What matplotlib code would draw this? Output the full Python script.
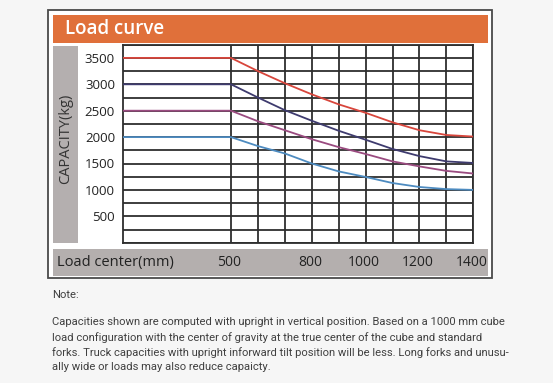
import matplotlib
matplotlib.use("Agg")
import matplotlib.pyplot as plt
from matplotlib.patches import Rectangle
import matplotlib.transforms as mtransforms

# ---- data ----
load_centers = [100, 500, 600, 700, 800, 900, 1000, 1100, 1200, 1300, 1400]
cap_3500 = [3500, 3500, 3250, 3020, 2810, 2620, 2460, 2280, 2130, 2040, 2010]
cap_3000 = [3000, 3000, 2750, 2510, 2310, 2120, 1950, 1775, 1640, 1540, 1510]
cap_2500 = [2500, 2500, 2300, 2130, 1960, 1810, 1680, 1540, 1445, 1360, 1310]
cap_2000 = [2000, 2000, 1830, 1690, 1500, 1350, 1245, 1130, 1055, 1015, 1000]
series_colors = ["#d8463c", "#3e3b6e", "#9a4b80", "#4d8bc0"]
x_grid = [500, 600, 700, 800, 900, 1000, 1100, 1200, 1300, 1400]
x_labels = {500: "500", 800: "800", 1000: "1000", 1200: "1200", 1400: "1400"}
y_ticks = list(range(0, 3751, 250))
y_labels = ["500", "1000", "1500", "2000", "2500", "3000", "3500"]
title = "Load curve"
ylabel = "CAPACITY(kg)"
xlabel = "Load center(mm)"
note_lines = [
    "Note:",
    "Capacities shown are computed with upright in vertical position. Based on a 1000 mm cube",
    "load configuration with the center of gravity at the true center of the cube and standard",
    "forks. Truck capacities with upright inforward tilt position will be less. Long forks and unusu-",
    "ally wide or loads may also reduce capaicty.",
]

W, H = 553, 383
plt.rcParams['font.family'] = ['Open Sans', 'DejaVu Sans']
fig = plt.figure(figsize=(W / 100, H / 100), dpi=100)
fig.patch.set_facecolor("#f6f6f6")


def fx(x):
    return x / W


def fy(y):
    return 1 - y / H


def prect(x0, y0, x1, y1, **kw):
    fig.patches.append(Rectangle((fx(x0), fy(y1)), fx(x1) - fx(x0), fy(y0) - fy(y1),
                                 transform=fig.transFigure, figure=fig, **kw))


# outer frame
prect(48, 10, 492, 278, facecolor="#ffffff", edgecolor="#4a4a4a", linewidth=1.3)
# title bar
prect(53, 15, 488, 43, facecolor="#e0703a", edgecolor="none")
fig.text(fx(65), fy(29.5), title, color="white", fontsize=13.5, fontweight="semibold",
         va="center", ha="left")
# left grey strip
prect(53, 46, 78, 243, facecolor="#b4afaf", edgecolor="none")
fig.text(fx(65.5), fy(139), ylabel, color="#333333", fontsize=10.5, rotation=90,
         va="center", ha="center")
# bottom grey bar
prect(53, 249, 488, 276, facecolor="#b4afae", edgecolor="none")
fig.text(fx(57), fy(262.5), xlabel, color="#222222", fontsize=10.5, va="center", ha="left")

# main axes
x0, y0, x1, y1 = 123.3, 44.7, 473.3, 242.7
ax = fig.add_axes([fx(x0), fy(y1), fx(x1) - fx(x0), fy(y0) - fy(y1)])
ax.set_zorder(5)
ax.set_facecolor("white")
ax.set_xlim(100, 1400)
ax.set_ylim(0, 3750)

for xv in x_grid:
    ax.axvline(xv, color="#2e2e2e", linewidth=1.3, zorder=1)
for yv in y_ticks:
    ax.axhline(yv, color="#2e2e2e", linewidth=1.3, zorder=1)
for s in ax.spines.values():
    s.set_color("#2e2e2e")
    s.set_linewidth(1.3)

ax.set_xticks([])
ax.set_yticks([int(v) for v in y_labels])
ax.set_yticklabels(y_labels, fontsize=9.5, color="#222222")
ax.tick_params(axis="y", length=0, pad=6)

for ys, c in zip([cap_3500, cap_3000, cap_2500, cap_2000], series_colors):
    ax.plot(load_centers, ys, color=c, linewidth=1.3, zorder=3, solid_joinstyle="round")

trans = mtransforms.blended_transform_factory(ax.transData, fig.transFigure)
shift = mtransforms.ScaledTranslation(-2 / 100, 0, fig.dpi_scale_trans)
for xv, lab in x_labels.items():
    ax.text(xv, fy(262.5), lab, transform=trans + shift, ha="center", va="center",
            fontsize=10, color="#222222", clip_on=False)

# note
note_y = [295, 322, 337.5, 352.5, 367.5]
for line, yy in zip(note_lines, note_y):
    fig.text(fx(52.5), fy(yy), line, fontsize=8.1, color="#404040", va="center", ha="left",
             family=['Roboto', 'DejaVu Sans'])

fig.savefig("out.png", dpi=100, facecolor=fig.get_facecolor())
